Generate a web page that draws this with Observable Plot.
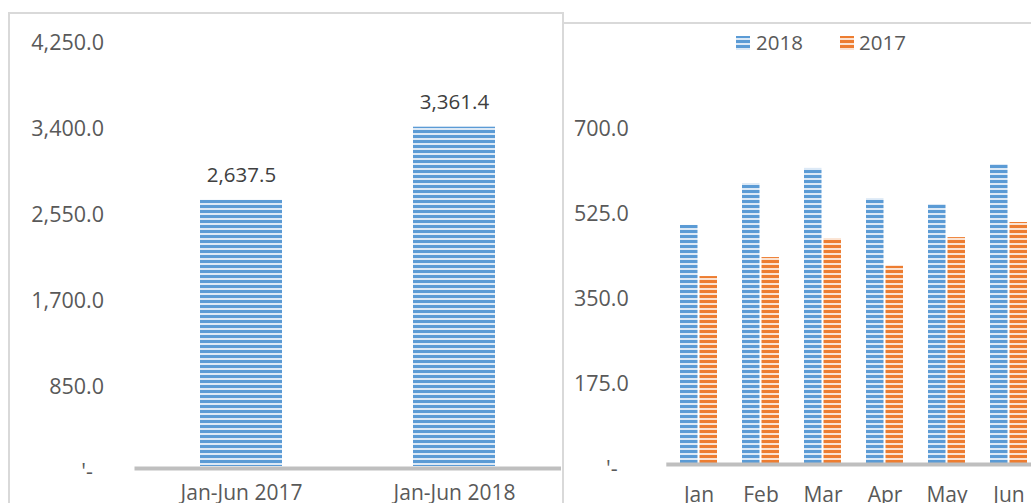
<!DOCTYPE html>
<html>
<head>
<meta charset="utf-8">
<script src="https://cdn.jsdelivr.net/npm/d3@7"></script>
<script src="https://cdn.jsdelivr.net/npm/@observablehq/plot@0.6"></script>
<style>
  html, body { margin: 0; padding: 0; background: #fff; }
  #root { position: relative; width: 1031px; height: 503px; overflow: hidden; background: #fff; font-family: "Open Sans", sans-serif; }
  .abs { position: absolute; }
  #leftBox { left: 8px; top: 12px; width: 556px; height: 600px; border: 2px solid #d9d9d9; box-sizing: border-box; }
  #rightTop { left: 564px; top: 22px; width: 500px; height: 2.4px; background: #d9d9d9; }
</style>
</head>
<body>
<div id="root">
  <svg width="0" height="0" style="position:absolute">
    <defs>
      <pattern id="stripeBlue" patternUnits="userSpaceOnUse" width="10" height="5">
        <rect width="10" height="5" fill="#dce9f6"/>
        <rect width="10" height="3" fill="#5b9bd5"/>
      </pattern>
      <pattern id="stripeOrange" patternUnits="userSpaceOnUse" width="10" height="5">
        <rect width="10" height="5" fill="#fbe3d2"/>
        <rect width="10" height="3" fill="#ed7d31"/>
      </pattern>
    </defs>
  </svg>
  <div id="leftBox" class="abs"></div>
  <div id="rightTop" class="abs"></div>
  <div id="leftChart" class="abs" style="left:0;top:0"></div>
  <div id="rightChart" class="abs" style="left:564px;top:0"></div>
  <svg id="legend" class="abs" style="left:0;top:0" width="1031" height="60">
    <rect x="736" y="36" width="14" height="14" fill="url(#stripeBlue)"/>
    <text x="756" y="50" font-family="Open Sans" font-size="20.5" fill="#595959">2018</text>
    <rect x="840" y="36" width="14" height="14" fill="url(#stripeOrange)"/>
    <text x="859" y="50" font-family="Open Sans" font-size="20.5" fill="#595959">2017</text>
  </svg>
</div>
<script>
// ---- data ----
const periodCategories = ["Jan-Jun 2017", "Jan-Jun 2018"];
const periodTotals = [2637.5, 3361.4];
const leftTicks = [0, 850, 1700, 2550, 3400, 4250];

const months = ["Jan", "Feb", "Mar", "Apr", "May", "Jun"];
const values2018 = [489, 575, 606, 544, 532, 614];
const values2017 = [384, 423, 462, 405, 464, 495];
const rightTicks = [0, 175, 350, 525, 700];
const seriesNames = ["2018", "2017"];

// ---- tables ----
const leftData = periodCategories.map((c, i) => ({cat: c, value: periodTotals[i]}));
const data2018 = months.map((m, i) => ({month: m, value: values2018[i], series: seriesNames[0]}));
const data2017 = months.map((m, i) => ({month: m, value: values2017[i], series: seriesNames[1]}));

const fmtVal = d3.format(",.1f");
const fmtTick = d => d === 0 ? "'-\u00a0\u00a0" : fmtVal(d);
const FONT = "Open Sans";
const TICK_COLOR = "#595959";

const leftPlot = Plot.plot({
  width: 563, height: 503,
  marginLeft: 134.5, marginRight: 2, marginTop: 37, marginBottom: 37,
  style: {background: "transparent", fontFamily: FONT, fontSize: "21px", color: TICK_COLOR, overflow: "visible", maxWidth: "none"},
  x: {domain: periodCategories, paddingInner: 0.615, paddingOuter: 0.3075},
  y: {domain: [0, 4250]},
  marks: [
    Plot.axisY({ticks: leftTicks, tickSize: 0, tickPadding: 31, tickFormat: fmtTick, dy: 6, fill: TICK_COLOR, fontSize: 21.5, label: null}),
    Plot.axisX({tickSize: 0, tickPadding: 19, fill: TICK_COLOR, fontSize: 21, label: null}),
    Plot.barY(leftData, {x: "cat", y: "value", fill: "url(#stripeBlue)"}),
    Plot.ruleY([0], {stroke: "#bfbfbf", strokeWidth: 4, dy: 2}),
    Plot.text(leftData, {x: "cat", y: "value", text: d => fmtVal(d.value), dy: -25, fill: "#404040", fontSize: 20.5})
  ]
});
document.getElementById("leftChart").appendChild(leftPlot);

const rightPlot = Plot.plot({
  width: 477, height: 503,
  marginLeft: 102.3, marginRight: 0, marginTop: 37, marginBottom: 40,
  style: {background: "transparent", fontFamily: FONT, fontSize: "21px", color: TICK_COLOR, overflow: "visible", maxWidth: "none"},
  x: {domain: months, paddingInner: 0.407, paddingOuter: 0.2035},
  y: {domain: [0, 875]},
  marks: [
    Plot.axisY({ticks: rightTicks, tickSize: 0, tickPadding: 38, tickFormat: fmtTick, dy: 6, fill: TICK_COLOR, fontSize: 21.5, label: null}),
    Plot.axisX({tickSize: 0, tickPadding: 24, fill: TICK_COLOR, fontSize: 21, label: null}),
    Plot.barY(data2018, {x: "month", y: "value", fill: "url(#stripeBlue)", insetRight: 19.5}),
    Plot.barY(data2017, {x: "month", y: "value", fill: "url(#stripeOrange)", insetLeft: 19.5}),
    Plot.ruleY([0], {stroke: "#bfbfbf", strokeWidth: 4, dy: 1})
  ]
});
document.getElementById("rightChart").appendChild(rightPlot);
</script>
</body>
</html>
